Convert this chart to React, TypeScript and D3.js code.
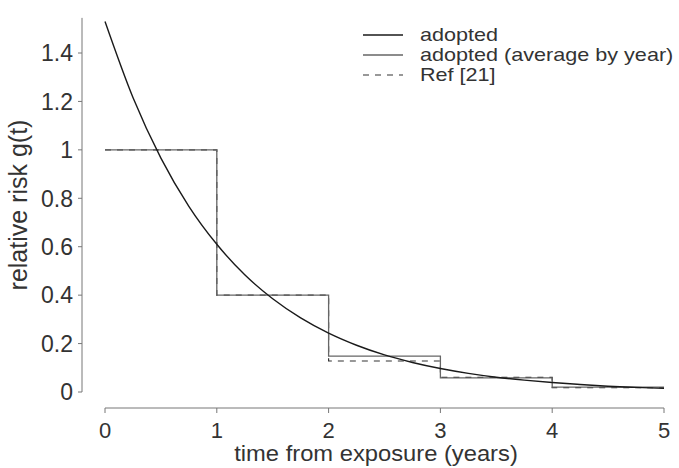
import React from "react";
import * as d3 from "d3";

// Relative risk curve g(t), sampled every quarter year
const curveT = [0, 0.25, 0.5, 0.75, 1, 1.25, 1.5, 1.75, 2, 2.25, 2.5, 2.75, 3, 3.25, 3.5, 3.75, 4, 4.25, 4.5, 4.75, 5];
const curveG = [1.53, 1.216, 0.966, 0.767, 0.61, 0.484, 0.385, 0.306, 0.243, 0.193, 0.153, 0.122, 0.097, 0.077, 0.061, 0.049, 0.039, 0.031, 0.024, 0.019, 0.015];

// Yearly averages (step functions)
const years = [0, 1, 2, 3, 4];
const avgByYear = [1.0, 0.4, 0.148, 0.058, 0.02];
const refByYear = [1.0, 0.4, 0.128, 0.06, 0.018];

const xTicks = [0, 1, 2, 3, 4, 5];
const yTicks = [0, 0.2, 0.4, 0.6, 0.8, 1, 1.2, 1.4];

const legendLabels = ["adopted", "adopted (average by year)", "Ref [21]"];

const W = 679;
const H = 468;
const FONT = "'Liberation Sans', Arial, sans-serif";

export default function App() {
  const x = d3.scaleLinear().domain([0, 5]).range([105, 664]);
  const y = d3.scaleLinear().domain([0, 1.4]).range([392, 53]);
  const yTop = y(1.545);
  const xAxisY = 408;

  const curvePath = d3
    .line<number>()
    .x((_, i) => x(curveT[i]))
    .y((d) => y(d))
    .curve(d3.curveMonotoneX)(curveG) as string;

  const stepPath = (vals: number[]) => {
    const pts: [number, number][] = vals.map((v, i) => [years[i], v]);
    pts.push([5, vals[vals.length - 1]]);
    return d3
      .line<[number, number]>()
      .x((d) => x(d[0]))
      .y((d) => y(d[1]))
      .curve(d3.curveStepAfter)(pts) as string;
  };

  const legendStyles = [
    { stroke: "#1a1a1a", dash: undefined, width: 1.3 },
    { stroke: "#666", dash: undefined, width: 1.3 },
    { stroke: "#333", dash: "6,6", width: 1.2 },
  ];

  return (
    <svg width={W} height={H} style={{ position: "absolute", left: 0, top: 0, background: "#fff" }}>
      {/* y axis */}
      <line x1={82} x2={82} y1={yTop} y2={y(0)} stroke="#777" strokeWidth={1} />
      {yTicks.map((t) => (
        <g key={t}>
          <line x1={78} x2={82} y1={y(t)} y2={y(t)} stroke="#777" strokeWidth={1} />
          <text
            x={73}
            y={y(t)}
            dy="0.36em"
            textAnchor="end"
            fontFamily={FONT}
            fontSize={23}
            fill="#333"
          >
            {String(t)}
          </text>
        </g>
      ))}
      <text
        transform={`translate(27,${205}) rotate(-90)`}
        textAnchor="middle"
        fontFamily={FONT}
        fontSize={25}
        fill="#333"
      >
        relative risk g(t)
      </text>

      {/* x axis */}
      <line x1={x(0)} x2={x(5)} y1={xAxisY} y2={xAxisY} stroke="#777" strokeWidth={1} />
      {xTicks.map((t) => (
        <g key={t}>
          <line x1={x(t)} x2={x(t)} y1={xAxisY} y2={xAxisY + 5} stroke="#777" strokeWidth={1} />
          <text
            x={x(t)}
            y={438}
            textAnchor="middle"
            fontFamily={FONT}
            fontSize={22}
            fill="#333"
          >
            {String(t)}
          </text>
        </g>
      ))}
      <text
        transform="translate(376,461) scale(1.08,1)"
        textAnchor="middle"
        fontFamily={FONT}
        fontSize={22}
        fill="#333"
      >
        time from exposure (years)
      </text>

      {/* series */}
      <path d={stepPath(refByYear)} fill="none" stroke="#333" strokeWidth={1.2} strokeDasharray="6,6" />
      <path d={stepPath(avgByYear)} fill="none" stroke="#666" strokeWidth={1.3} />
      <path d={curvePath} fill="none" stroke="#1a1a1a" strokeWidth={1.4} />

      {/* legend */}
      {legendLabels.map((lab, i) => {
        const ly = 35 + i * 20;
        const s = legendStyles[i];
        return (
          <g key={lab}>
            <line x1={363} x2={403} y1={ly} y2={ly} stroke={s.stroke} strokeWidth={s.width} strokeDasharray={s.dash} />
            <text
              transform={`translate(420,${ly}) scale(1.2,1)`}
              dy="0.35em"
              fontFamily={FONT}
              fontSize={18}
              fill="#333"
            >
              {lab}
            </text>
          </g>
        );
      })}
    </svg>
  );
}
